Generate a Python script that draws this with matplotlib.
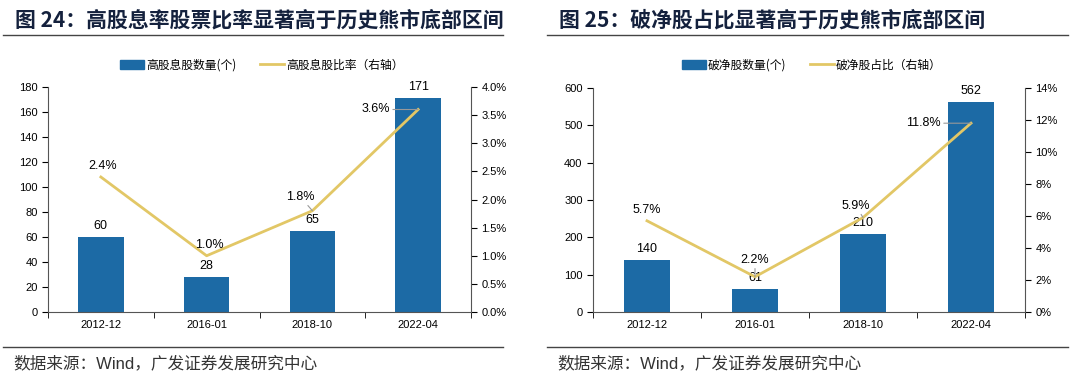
import numpy as np
import matplotlib
matplotlib.use("Agg")
import matplotlib.pyplot as plt
from matplotlib.lines import Line2D
from matplotlib.patches import Patch

plt.rcParams['font.family'] = ['Liberation Sans', 'Noto Sans CJK SC', 'DejaVu Sans']

# data
dates = ['2012-12', '2016-01', '2018-10', '2022-04']
high_div_count = [60, 28, 65, 171]
high_div_ratio = [2.4, 1.0, 1.8, 3.6]
below_book_count = [140, 61, 210, 562]
below_book_ratio = [5.7, 2.2, 5.9, 11.8]

BLUE = '#1c6aa5'
GOLD = '#e2c766'
NAVY = '#14213d'
CJK = ['Noto Sans CJK SC', 'DejaVu Sans']

W, H = 1070, 380
fig = plt.figure(figsize=(W / 100, H / 100), dpi=100)


def box(x0, y0, x1, y1):
    # pixel box -> figure fraction
    return [x0 / W, 1 - y1 / H, (x1 - x0) / W, (y1 - y0) / H]


def panel(rect, counts, ratios, ymax, ystep, rmax, rstep, rfmt,
          bar_name, line_name, leg_x, offsets):
    ax = fig.add_axes(rect)
    x = np.arange(len(dates))
    ax.bar(x, counts, width=0.43, color=BLUE, zorder=2)
    ax.set_xlim(-0.5, len(dates) - 0.5)
    ax.set_ylim(0, ymax)
    ax.set_yticks(np.arange(0, ymax + 1, ystep))
    ax.set_xticks(x)
    ax.set_xticklabels(dates, fontsize=8)
    ax.set_xticks(np.arange(-0.5, len(dates), 1.0), minor=True)
    ax.tick_params(axis='x', which='major', length=0, pad=6)
    ax.tick_params(axis='x', which='minor', length=4, direction='out')
    ax.tick_params(axis='y', labelsize=8, length=4, direction='out')
    ax.spines['top'].set_visible(False)
    ax.spines['right'].set_visible(False)
    for sp in ['left', 'bottom']:
        ax.spines[sp].set_color('#555555')
    for xi, c in zip(x, counts):
        ax.annotate(str(c), (xi, c), xytext=(0, 5), textcoords='offset pixels',
                    ha='center', va='bottom', fontsize=9)

    ax2 = ax.twinx()
    ax2.plot(x, ratios, color=GOLD, lw=2, zorder=3)
    ax2.set_ylim(0, rmax)
    ax2.set_yticks(np.arange(0, rmax + 1e-9, rstep))
    ax2.set_yticklabels([rfmt.format(v) for v in np.arange(0, rmax + 1e-9, rstep)])
    ax2.tick_params(axis='y', labelsize=8, length=4, direction='out')
    ax2.spines['top'].set_visible(False)
    ax2.spines['left'].set_visible(False)
    ax2.spines['right'].set_color('#555555')
    ax2.spines['bottom'].set_visible(False)
    for xi, r, (dx, dy, lead) in zip(x, ratios, offsets):
        props = dict(arrowstyle='-', color='#999999', lw=0.8, shrinkA=0, shrinkB=0) if lead else None
        ha = 'right' if dx < -20 else 'center'
        ax2.annotate(f'{r:.1f}%', (xi, r), xytext=(dx, dy), textcoords='offset pixels',
                     ha=ha, va='center', fontsize=9, arrowprops=props)

    handles = [Patch(color=BLUE), Line2D([], [], color=GOLD, lw=2)]
    fig.legend(handles, [bar_name, line_name], loc='center', bbox_to_anchor=(leg_x / W, 1 - 65 / H),
               ncol=2, frameon=False, prop={'family': CJK, 'size': 8.5},
               handlelength=2.0, handleheight=0.8, columnspacing=2.0, handletextpad=0.2)
    return ax


panel(box(48, 87, 471, 312), high_div_count, high_div_ratio, 180, 20, 4.0, 0.5, '{:.1f}%',
      '高股息股数量(个)', '高股息股比率（右轴）', 262,
      [(2, 11, False), (3, 11, False), (-12, 14, True), (-28, 0, True)])
panel(box(593, 88, 1025, 312), below_book_count, below_book_ratio, 600, 100, 14, 2, '{:.0f}%',
      '破净股数量(个)', '破净股占比（右轴）', 812,
      [(0, 11, False), (0, 17, True), (-7, 12, True), (-30, 0, True)])

# titles, rules and sources
for x0, x1, title in [(3, 503, '图 24：高股息率股票比率显著高于历史熊市底部区间'),
                      (547, 1068, '图 25：破净股占比显著高于历史熊市底部区间')]:
    fig.text((x0 + 12) / W, 1 - 20 / H, title, fontsize=15, fontweight='bold', color=NAVY,
             family=CJK, va='center', ha='left')
    for yy in (35, 347):
        fig.add_artist(Line2D([x0 / W, x1 / W], [1 - yy / H, 1 - yy / H], color='#444444', lw=1))
    fig.text((x0 + 10) / W, 1 - 363 / H, '数据来源：Wind，广发证券发展研究中心', fontsize=12,
             color='#333333', family=['Liberation Sans', 'Noto Sans CJK SC'], va='center', ha='left')

fig.savefig('out.png', dpi=100)
